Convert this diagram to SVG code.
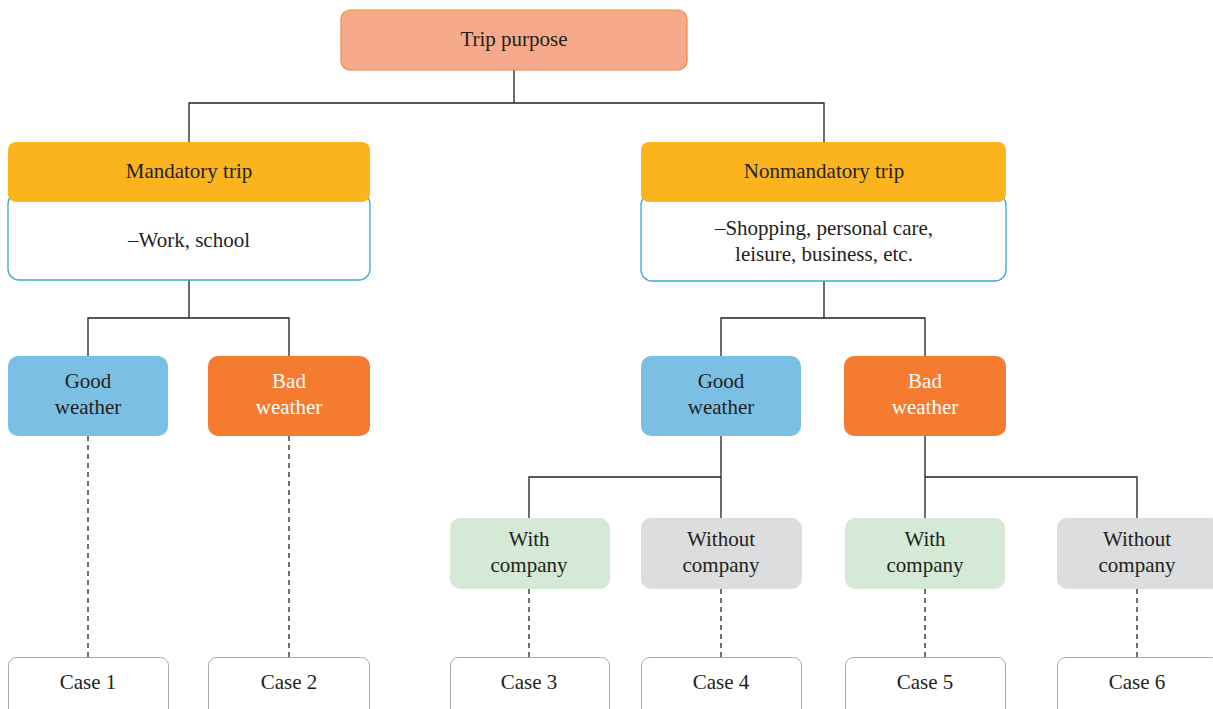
<svg xmlns="http://www.w3.org/2000/svg" width="1213" height="709" viewBox="0 0 1213 709">
<style>
text{font-family:"Liberation Serif","DejaVu Serif",serif;font-size:21px;fill:#231f20;text-anchor:middle;dominant-baseline:central}
.w{fill:#ffffff}
.ln{stroke:#231f20;stroke-width:1.3;fill:none}
.d{stroke:#231f20;stroke-width:1.3;fill:none;stroke-dasharray:5,4}
.case{fill:#fff;stroke:#a8a9ab;stroke-width:1}
</style>
<rect width="1213" height="709" fill="#fff"/>
<g id="connectors">
<path class="ln" d="M514 70V103M189 142V103H824V142"/>
<path class="ln" d="M189 280V318M88 356V318H289V356"/>
<path class="ln" d="M824 281V318M721 356V318H925V356"/>
<path class="ln" d="M721 436V518M529 518V477H721"/>
<path class="ln" d="M925 436V477H1137V518M925 477V518"/>
<path class="d" d="M88 436V657M289 436V657M529 589V657M721 589V657M925 589V657M1137 589V657"/>
</g>
<g id="trip-purpose">
<rect x="341" y="10" width="346" height="60" rx="9" fill="#f7a98b" stroke="#f4893f" stroke-width="1.2"/>
<text x="514" y="39">Trip purpose</text>
</g>
<g id="mandatory">
<rect x="8" y="193" width="362" height="87" rx="11" fill="#fff" stroke="#3aa8dc" stroke-width="1.3"/>
<rect x="8" y="142" width="362" height="60" rx="8" fill="#fbb41e"/>
<text x="189" y="171">Mandatory trip</text>
<text x="189" y="240">–Work, school</text>
</g>
<g id="nonmandatory">
<rect x="641" y="194" width="365" height="87" rx="11" fill="#fff" stroke="#3aa8dc" stroke-width="1.3"/>
<rect x="641" y="142" width="365" height="60" rx="8" fill="#fbb41e"/>
<text x="824" y="171">Nonmandatory trip</text>
<text x="824" y="228">–Shopping, personal care,</text>
<text x="824" y="254">leisure, business, etc.</text>
</g>
<g id="good1">
<rect x="8" y="356" width="160" height="80" rx="10" fill="#7bc0e4"/>
<text x="88" y="381">Good</text>
<text x="88" y="407">weather</text>
</g>
<g id="bad1">
<rect x="208" y="356" width="162" height="80" rx="10" fill="#f47b30"/>
<text class="w" x="289" y="381">Bad</text>
<text class="w" x="289" y="407">weather</text>
</g>
<g id="good2">
<rect x="641" y="356" width="160" height="80" rx="10" fill="#7bc0e4"/>
<text x="721" y="381">Good</text>
<text x="721" y="407">weather</text>
</g>
<g id="bad2">
<rect x="844" y="356" width="162" height="80" rx="10" fill="#f47b30"/>
<text class="w" x="925" y="381">Bad</text>
<text class="w" x="925" y="407">weather</text>
</g>
<g id="with1">
<rect x="450" y="518" width="160" height="71" rx="10" fill="#d4ead6"/>
<text x="529" y="539">With</text>
<text x="529" y="565">company</text>
</g>
<g id="without1">
<rect x="641" y="518" width="161" height="71" rx="10" fill="#dcdddf"/>
<text x="721" y="539">Without</text>
<text x="721" y="565">company</text>
</g>
<g id="with2">
<rect x="845" y="518" width="160" height="71" rx="10" fill="#d4ead6"/>
<text x="925" y="539">With</text>
<text x="925" y="565">company</text>
</g>
<g id="without2">
<rect x="1057" y="518" width="164" height="71" rx="10" fill="#dcdddf"/>
<text x="1137" y="539">Without</text>
<text x="1137" y="565">company</text>
</g>
<g id="case1"><rect class="case" x="8.5" y="657.5" width="160" height="60" rx="8"/><text x="88" y="682">Case 1</text></g>
<g id="case2"><rect class="case" x="208.5" y="657.5" width="161" height="60" rx="8"/><text x="289" y="682">Case 2</text></g>
<g id="case3"><rect class="case" x="450.5" y="657.5" width="159" height="60" rx="8"/><text x="529" y="682">Case 3</text></g>
<g id="case4"><rect class="case" x="641.5" y="657.5" width="160" height="60" rx="8"/><text x="721" y="682">Case 4</text></g>
<g id="case5"><rect class="case" x="845.5" y="657.5" width="160" height="60" rx="8"/><text x="925" y="682">Case 5</text></g>
<g id="case6"><rect class="case" x="1057.5" y="657.5" width="162" height="60" rx="8"/><text x="1137" y="682">Case 6</text></g>
</svg>
